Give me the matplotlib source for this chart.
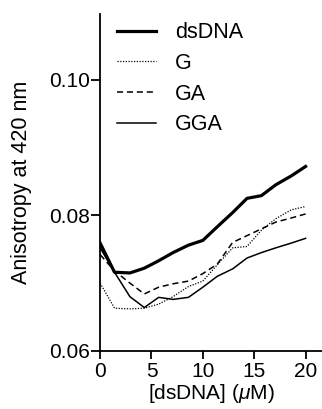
import matplotlib
matplotlib.use("Agg")
import matplotlib.pyplot as plt

plt.rcParams['font.family'] = ['Liberation Sans', 'DejaVu Sans']
plt.rcParams['mathtext.fontset'] = 'custom'
plt.rcParams['mathtext.it'] = 'Liberation Sans:italic'
plt.rcParams['mathtext.rm'] = 'Liberation Sans'

conc = [0, 1.4, 2.9, 4.3, 5.7, 7.1, 8.6, 10, 11.4, 12.9, 14.3, 15.7, 17.1, 18.6, 20]
dsDNA = [0.0759, 0.0716, 0.0715, 0.0722, 0.0733, 0.0745, 0.0756, 0.0763, 0.0783,
         0.0804, 0.0825, 0.0829, 0.0845, 0.0858, 0.0872]
G = [0.0700, 0.0663, 0.0662, 0.0663, 0.0669, 0.0680, 0.0695, 0.0703, 0.0727,
     0.0752, 0.0754, 0.0778, 0.0795, 0.0808, 0.0813]
GA = [0.0742, 0.0718, 0.0700, 0.0684, 0.0694, 0.0699, 0.0703, 0.0714, 0.0728,
      0.0760, 0.0770, 0.0780, 0.0790, 0.0796, 0.0802]
GGA = [0.0752, 0.0716, 0.0680, 0.0664, 0.0679, 0.0676, 0.0679, 0.0694, 0.0710,
       0.0721, 0.0737, 0.0745, 0.0752, 0.0759, 0.0766]

xticks = [0, 5, 10, 15, 20]
yticks = [0.06, 0.08, 0.10]
ytick_labels = ["0.06", "0.08", "0.10"]

fig = plt.figure(figsize=(3.22, 4.09), dpi=100)
ax = fig.add_axes([0.311, 0.142, 0.689, 0.824])

ax.plot(conc, dsDNA, color='black', lw=2.3, label='dsDNA')
ax.plot(conc, G, color='black', lw=0.9, linestyle=(0, (1, 1.2)), label='G')
ax.plot(conc, GA, color='black', lw=1.1, linestyle=(0, (4, 2.5)), label='GA')
ax.plot(conc, GGA, color='black', lw=1.1, label='GGA')

ax.set_xlim(0, 21.6)
ax.set_ylim(0.06, 0.1097)
ax.set_xticks(xticks)
ax.set_yticks(yticks)
ax.set_yticklabels(ytick_labels)

for s in ['top', 'right']:
    ax.spines[s].set_visible(False)
for s in ['left', 'bottom']:
    ax.spines[s].set_linewidth(1.3)
ax.tick_params(direction='out', width=1.3, labelsize=15)
ax.tick_params(axis='x', length=5.5, pad=2.5)
ax.tick_params(axis='y', length=6.5, pad=1)

ax.set_xlabel(r'[dsDNA] ($\mu$M)', fontsize=15, labelpad=1)
ax.set_ylabel('Anisotropy at 420 nm', fontsize=15.5, labelpad=12)

ax.legend(loc='upper left', bbox_to_anchor=(0.075, 0.975), frameon=False,
          fontsize=15.5, handlelength=1.8, handletextpad=0.9, labelspacing=0.45,
          borderaxespad=0, borderpad=0)

plt.savefig("out.png", dpi=100)
plt.close()
